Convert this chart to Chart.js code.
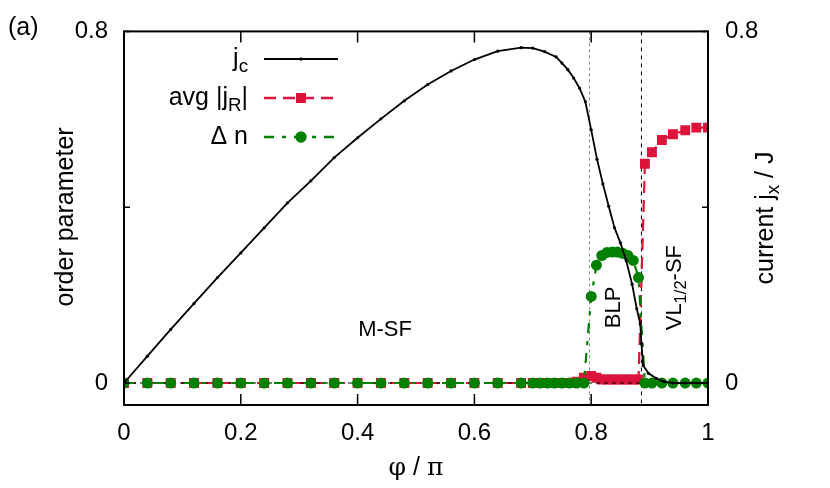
<!DOCTYPE html>
<html>
<head>
<meta charset="utf-8">
<script src="https://cdn.jsdelivr.net/npm/chart.js@4.4.1/dist/chart.umd.min.js"></script>
<style>
  html, body { margin: 0; padding: 0; background: #fff; }
  #wrap { width: 830px; height: 488px; position: relative; }
</style>
</head>
<body>
<div id="wrap"><canvas id="chart"></canvas></div>
<script>
// data (phi / pi on x)
const phiJc = [0, 0.04, 0.08, 0.12, 0.16, 0.2, 0.24, 0.28, 0.32, 0.36, 0.4, 0.44, 0.48, 0.52, 0.56, 0.6, 0.64, 0.68,
  0.70, 0.72, 0.74, 0.75, 0.76, 0.77, 0.78, 0.79, 0.80, 0.81, 0.82, 0.83, 0.84, 0.85, 0.86, 0.87,
  0.878, 0.884, 0.886, 0.889, 0.898, 0.912, 0.925, 0.94, 0.96, 0.98, 1.0];
const jc = [0, 0.061, 0.122, 0.181, 0.24, 0.296, 0.353, 0.41, 0.46, 0.513, 0.558, 0.601, 0.642, 0.679, 0.71, 0.736, 0.755, 0.763,
  0.762, 0.754, 0.742, 0.728, 0.713, 0.694, 0.671, 0.640, 0.576, 0.509, 0.453, 0.402, 0.353, 0.319, 0.278, 0.225,
  0.169, 0.135, 0.09, 0.04, 0.022, 0.01, 0.003, 0, 0, 0, 0];

const phiN = [0, 0.04, 0.08, 0.12, 0.16, 0.2, 0.24, 0.28, 0.32, 0.36, 0.4, 0.44, 0.48, 0.52, 0.56, 0.6, 0.64, 0.68,
  0.7, 0.7125, 0.725, 0.7375, 0.75, 0.7625, 0.775, 0.7875,
  0.8, 0.809, 0.818, 0.827, 0.836, 0.845, 0.854, 0.863, 0.872, 0.881,
  0.892, 0.904, 0.921, 0.94, 0.961, 0.98, 1.0];
const jR = [0, 0, 0, 0, 0, 0, 0, 0, 0, 0, 0, 0, 0, 0, 0, 0, 0, 0,
  0, 0, 0, 0, 0, 0, 0.003, 0.012,
  0.016, 0.012, 0.008, 0.008, 0.008, 0.008, 0.008, 0.008, 0.008, 0.008,
  0.499, 0.525, 0.553, 0.566, 0.575, 0.581, 0.581];
const dn = [0, 0, 0, 0, 0, 0, 0, 0, 0, 0, 0, 0, 0, 0, 0, 0, 0, 0,
  0, 0, 0, 0, 0, 0, 0, 0,
  0.197, 0.268, 0.29, 0.297, 0.298, 0.298, 0.295, 0.29, 0.279, 0.24,
  0, 0, 0, 0, 0, 0, 0];

const zeroX = [0, 1];
const zeroY = [0, 0];

// phase boundaries
const boundaries = [0.797, 0.886];

const xTicks = [0, 0.2, 0.4, 0.6, 0.8, 1];
const xTickLabels = ['0', '0.2', '0.4', '0.6', '0.8', '1'];
const yTicks = [0, 0.4, 0.8];
const yTickLabels = ['0', '', '0.8'];

const FONT = "'Liberation Sans', Arial, Helvetica, sans-serif";
const FS = 25;      // titles, legend
const TFS = 24;     // tick labels
const PFS = 22;     // phase labels
const RED = '#dc143c';
const GREEN = '#008000';

const pts = (xs, ys) => xs.map((x, i) => ({ x: x, y: ys[i] }));

// text with subscripts: parts = [[text, isSub, font], ...]
function richWidth(ctx, parts, size) {
  let w = 0;
  parts.forEach(p => {
    ctx.font = (p[1] ? size * 0.75 : size) + 'px ' + (p[2] || FONT);
    w += ctx.measureText(p[0]).width;
  });
  return w;
}
function drawRich(ctx, parts, x, y, size, align) {
  const w = richWidth(ctx, parts, size);
  let cx = align === 'right' ? x - w : align === 'center' ? x - w / 2 : x;
  ctx.textAlign = 'left';
  ctx.textBaseline = 'middle';
  parts.forEach(p => {
    ctx.font = (p[1] ? size * 0.75 : size) + 'px ' + (p[2] || FONT);
    ctx.fillText(p[0], cx, p[1] ? y + size * 0.3 : y);
    cx += ctx.measureText(p[0]).width;
  });
}

const decor = {
  id: 'decor',
  beforeDatasetsDraw(chart) {
    const { ctx, chartArea: a, scales: { x } } = chart;
    ctx.save();
    ctx.lineWidth = 1;
    boundaries.forEach((b, i) => {
      const px = x.getPixelForValue(b);
      ctx.strokeStyle = i === 0 ? '#888' : '#000';
      ctx.setLineDash(i === 0 ? [3, 3] : [4, 4]);
      ctx.beginPath();
      ctx.moveTo(px, a.top);
      ctx.lineTo(px, a.bottom);
      ctx.stroke();
    });
    ctx.restore();
  },
  afterDraw(chart) {
    const { ctx, chartArea: a, scales: { x, y } } = chart;
    ctx.save();
    // frame
    ctx.strokeStyle = '#000';
    ctx.lineWidth = 2;
    ctx.strokeRect(a.left, a.top, a.right - a.left, a.bottom - a.top);
    // inward ticks
    ctx.lineWidth = 1.5;
    ctx.beginPath();
    xTicks.forEach(t => {
      const px = x.getPixelForValue(t);
      ctx.moveTo(px, a.bottom); ctx.lineTo(px, a.bottom - 11);
      ctx.moveTo(px, a.top); ctx.lineTo(px, a.top + 11);
    });
    yTicks.forEach(t => {
      const py = y.getPixelForValue(t);
      ctx.moveTo(a.left, py); ctx.lineTo(a.left + 6, py);
      ctx.moveTo(a.right, py); ctx.lineTo(a.right - 6, py);
    });
    ctx.stroke();

    ctx.fillStyle = '#000';
    // axis titles
    drawRich(ctx, [['φ', false, "'DejaVu Serif', serif"], [' / ', false], ['π', false, "'DejaVu Serif', serif"]], (a.left + a.right) / 2, 468, FS, 'center');
    ctx.save();
    ctx.translate(66, 217);
    ctx.rotate(-Math.PI / 2);
    drawRich(ctx, [['order parameter', false]], 0, 0, FS, 'center');
    ctx.restore();
    ctx.save();
    ctx.translate(766, 218);
    ctx.rotate(-Math.PI / 2);
    drawRich(ctx, [['current j', false], ['x', true], [' / J', false]], 0, 0, FS, 'center');
    ctx.restore();
    drawRich(ctx, [['(a)', false]], 8, 28, FS, 'left');

    // phase labels
    drawRich(ctx, [['M-SF', false]], x.getPixelForValue(0.447), y.getPixelForValue(0.12), PFS, 'center');
    ctx.save();
    ctx.translate(x.getPixelForValue(0.839), y.getPixelForValue(0.172));
    ctx.rotate(-Math.PI / 2);
    drawRich(ctx, [['BLP', false]], 0, 0, PFS, 'center');
    ctx.restore();
    ctx.save();
    ctx.translate(x.getPixelForValue(0.943), y.getPixelForValue(0.217));
    ctx.rotate(-Math.PI / 2);
    drawRich(ctx, [['VL', false], ['1/2', true], ['-SF', false]], 0, 0, PFS, 'center');
    ctx.restore();

    // legend
    const rows = [
      { parts: [['j', false], ['c', true]], color: '#000', dash: [], width: 2, style: 'circle', r: 1.6 },
      { parts: [['avg |j', false], ['R', true], ['|', false]], color: RED, dash: [12, 7], width: 2.5, style: 'rect', r: 7 },
      { parts: [['Δ n', false]], color: GREEN, dash: [10, 8, 4, 8], width: 2.5, style: 'circle', r: 5.5 }
    ];
    const ly = [59, 98, 137];
    rows.forEach((r, i) => {
      ctx.fillStyle = '#000';
      drawRich(ctx, r.parts, 248, ly[i], FS, 'right');
      ctx.strokeStyle = r.color;
      ctx.lineWidth = r.width;
      ctx.setLineDash(r.dash);
      ctx.beginPath();
      ctx.moveTo(264, ly[i]); ctx.lineTo(338, ly[i]);
      ctx.stroke();
      ctx.setLineDash([]);
      ctx.fillStyle = r.color;
      Chart.helpers.drawPoint(ctx, { pointStyle: r.style, radius: r.r, borderWidth: 0 }, 301, ly[i]);
      ctx.fill();
    });
    ctx.restore();
  }
};

new Chart(document.getElementById('chart'), {
  type: 'line',
  data: {
    datasets: [
      {
        label: 'jc', data: pts(phiJc, jc), borderColor: '#000', borderWidth: 1.8,
        pointRadius: 1.6, pointBackgroundColor: '#000', pointBorderColor: '#000', pointBorderWidth: 0
      },
      {
        label: 'dn', data: pts(phiN, dn), borderColor: GREEN, borderWidth: 2.2, borderDash: [10, 8, 4, 8],
        pointStyle: 'circle', pointRadius: 5.5, pointBackgroundColor: GREEN, pointBorderWidth: 0
      },
      {
        label: 'zero', data: pts(zeroX, zeroY), borderColor: '#000', borderWidth: 1, borderDash: [4, 4],
        pointRadius: 0
      },
      {
        label: 'jR', data: pts(phiN, jR), borderColor: RED, borderWidth: 2.2, borderDash: [12, 7],
        pointStyle: 'rect', pointRadius: 7, pointBackgroundColor: RED, pointBorderWidth: 0
      }
    ]
  },
  options: {
    responsive: true,
    maintainAspectRatio: false,
    animation: false,
    events: [],
    layout: { padding: { top: 29 } },
    plugins: { legend: { display: false }, tooltip: { enabled: false } },
    scales: {
      x: {
        type: 'linear', min: 0, max: 1,
        grid: { display: false, tickLength: 0 }, border: { display: false },
        afterBuildTicks: s => { s.ticks = xTicks.map(v => ({ value: v })); },
        afterFit: s => { s.height = 83; },
        ticks: {
          color: '#000', padding: 14, maxRotation: 0, autoSkip: false,
          font: { family: FONT, size: TFS },
          callback: (v, i) => xTickLabels[i]
        }
      },
      y: {
        type: 'linear', position: 'left', min: -0.05, max: 0.8,
        grid: { display: false, tickLength: 0 }, border: { display: false },
        afterBuildTicks: s => { s.ticks = yTicks.map(v => ({ value: v })); },
        afterFit: s => { s.width = 124; },
        ticks: {
          color: '#000', padding: 16, font: { family: FONT, size: TFS },
          callback: (v, i) => yTickLabels[i]
        }
      },
      y2: {
        type: 'linear', position: 'right', min: -0.05, max: 0.8,
        grid: { display: false, tickLength: 0 }, border: { display: false },
        afterBuildTicks: s => { s.ticks = yTicks.map(v => ({ value: v })); },
        afterFit: s => { s.width = 122; },
        ticks: {
          color: '#000', padding: 17, font: { family: FONT, size: TFS },
          callback: (v, i) => yTickLabels[i]
        }
      }
    }
  },
  plugins: [decor]
});
</script>
</body>
</html>
